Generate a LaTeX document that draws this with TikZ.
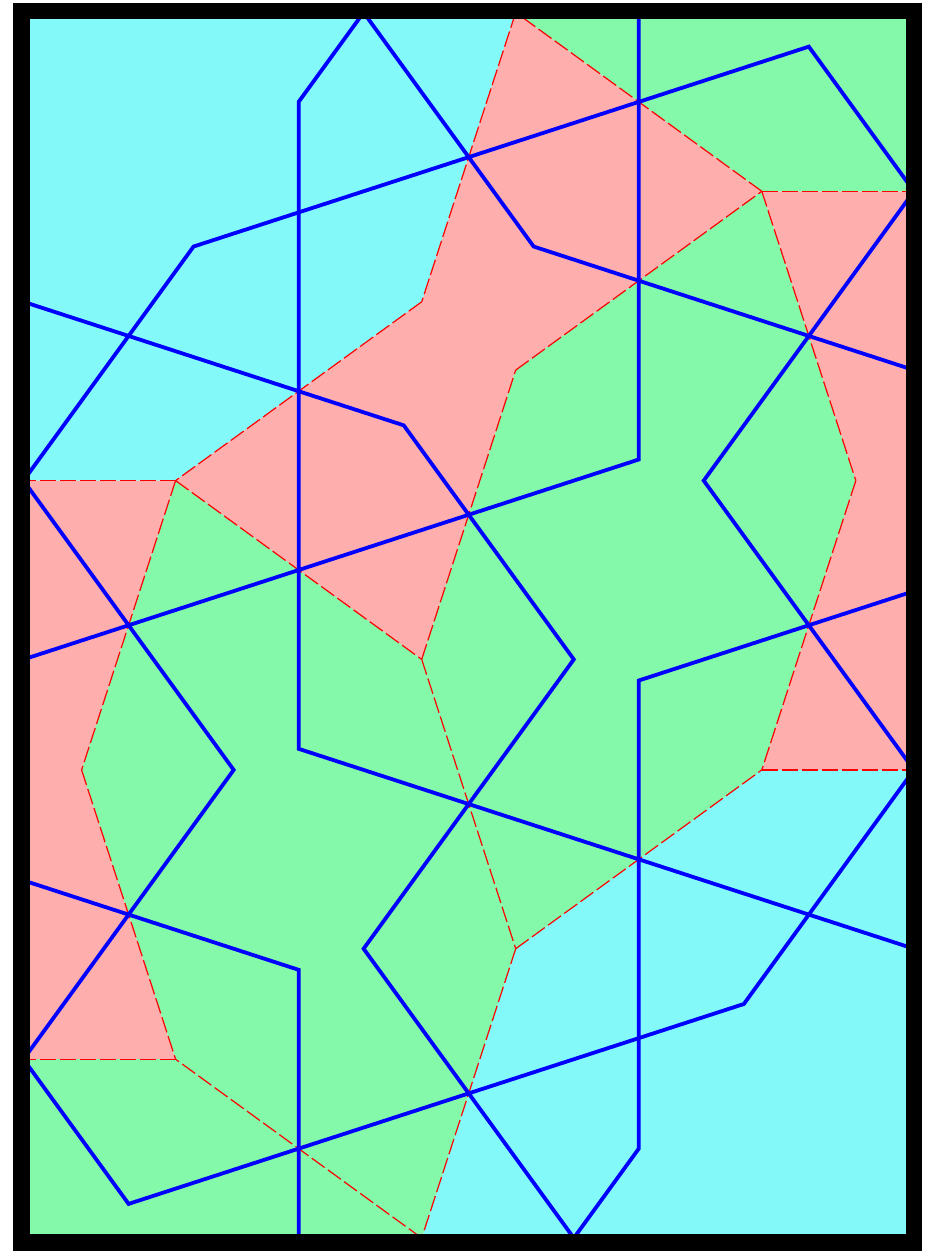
\documentclass[tikz,border=0pt]{standalone}
\usepackage{xcolor}
\usepackage{tikz}
\usetikzlibrary{calc}
\definecolor{tilecyan}{RGB}{132,249,249}
\definecolor{tilegreen}{RGB}{132,249,170}
\definecolor{tilepink}{RGB}{255,174,174}
\newcommand{\halfedge}{152.1}
\newcommand{\bowtop}{(C) -- (B) -- (A) -- (F) -- (E) -- (D) -- cycle}
\newcommand{\bowright}{(D) -- (G) -- (H) -- (H2) -- (G2) -- (D2) -- cycle}
\newcommand{\bowleft}{(A) -- (K) -- (J) -- (J2) -- (K2) -- (A2) -- cycle}
\newcommand{\hexleft}{(A) -- (F) -- (I) -- (L) -- (J) -- (K) -- cycle}
\newcommand{\hexright}{(F) -- (I) -- (H) -- (G) -- (D) -- (E) -- cycle}
\newcommand{\hextop}{(C) -- (D) -- (D2) -- (D3) -- (D4) -- (D5) -- cycle}
\newcommand{\hexbottom}{(L) -- (J) -- (J2) -- (J3) -- (J4) -- (J5) -- cycle}
\tikzset{
  decatile/.style={fill=tilecyan},
  hextile/.style={fill=tilegreen},
  bowtile/.style={fill=tilepink},
  tileedge/.style={draw=red, line width=1.2pt, dash pattern=on 16pt off 4pt},
  strap/.style={draw=blue, line width=3.8pt, line join=miter},
  outerframe/.style={draw=black, line width=16.4pt}
}

\begin{document}
\begin{tikzpicture}[x=1pt,y=1pt]
  \useasboundingbox (0,0) rectangle (933,-1251);
  \pgfmathsetmacro{\fulledge}{2*\halfedge}
  \pgfmathsetmacro{\decR}{3.23607*\halfedge}
  \pgfmathsetmacro{\decmid}{3.07768*\halfedge}
  \pgfmathsetmacro{\decpt}{1.90211*\halfedge}
  \pgfmathsetmacro{\wing}{0.72654*\halfedge}
  \coordinate (nw) at (21.6,-11.2);
  \coordinate (se) at (913.7,-1242.5);
  % tile corners
  \coordinate (A) at (175.6,-480.6);
  \coordinate (B) at ($(A)+(36:\fulledge)$);
  \coordinate (C) at ($(B)+(72:\fulledge)$);
  \coordinate (D) at ($(C)+(-36:\fulledge)$);
  \coordinate (E) at ($(D)+(216:\fulledge)$);
  \coordinate (F) at ($(E)+(252:\fulledge)$);
  \coordinate (G) at ($(D)+(-72:\fulledge)$);
  \coordinate (H) at ($(G)+(252:\fulledge)$);
  \coordinate (I) at ($(H)+(216:\fulledge)$);
  \coordinate (L) at ($(I)+(252:\fulledge)$);
  \coordinate (J) at ($(L)+(144:\fulledge)$);
  \coordinate (K) at ($(J)+(108:\fulledge)$);
  \coordinate (A2) at ($(A)+(180:\fulledge)$);
  \coordinate (J2) at ($(J)+(180:\fulledge)$);
  \coordinate (K2) at ($(J2)+(72:\fulledge)$);
  \coordinate (D2) at ($(D)+(0:\fulledge)$);
  \coordinate (H2) at ($(H)+(0:\fulledge)$);
  \coordinate (G2) at ($(H2)+(108:\fulledge)$);
  \coordinate (D3) at ($(D2)+(108:\fulledge)$);
  \coordinate (D4) at ($(D3)+(144:\fulledge)$);
  \coordinate (D5) at ($(D4)+(180:\fulledge)$);
  \coordinate (J3) at ($(J2)+(-72:\fulledge)$);
  \coordinate (J4) at ($(J3)+(-36:\fulledge)$);
  \coordinate (J5) at ($(J4)+(0:\fulledge)$);
  \coordinate (O1) at ($(A)+(108:\decR)$);
  \coordinate (O2) at ($(H)+(288:\decR)$);
  % edge midpoints
  \foreach \u/\v in {A/B,B/C,C/D,D/E,E/F,A/F,D/G,G/H,H/I,I/L,J/L,J/K,A/K,F/I,
      D/D2,D2/G2,H/H2,H2/G2,A/A2,A2/K2,J/J2,J2/K2,D2/D3,D3/D4,D4/D5,C/D5,
      J2/J3,J3/J4,J4/J5,J5/L}
    \coordinate (m\u\v) at ($(\u)!.5!(\v)$);

  \begin{scope}
    \clip (nw) rectangle (se);
    % tiles
    \foreach \o in {O1,O2}
      \fill[decatile,shift={(\o)}] (0:\decR) \foreach \a in {36,72,...,324}{ -- (\a:\decR)} -- cycle;
    \fill[bowtile] \bowtop;
    \fill[bowtile] \bowright;
    \fill[bowtile] \bowleft;
    \fill[hextile] \hexleft;
    \fill[hextile] \hexright;
    \fill[hextile] \hextop;
    \fill[hextile] \hexbottom;
    % tile edges, each once
    \foreach \u/\v in {C/B,B/A,A/F,F/E,E/D,D/C,D/G,G/H,H/H2,D/D2,
        A/K,K/J,J/J2,A/A2,F/I,I/L,L/J,I/H}
      \draw[tileedge] (\u) -- (\v);
    % rosettes in the decagons
    \foreach \o in {O1,O2}{
      \draw[strap,shift={(\o)}] (18:\decmid) \foreach \a in {54,126,198,270}{ -- (\a:\decpt) -- ({\a+36}:\decmid)} -- (342:\decpt) -- cycle;
      \draw[strap,shift={(\o)}] (54:\decmid) \foreach \a in {90,162,234,306}{ -- (\a:\decpt) -- ({\a+36}:\decmid)} -- (18:\decpt) -- cycle;
    }
    % bowties
    \draw[strap] (mBC) -- (mCD) -- (mDE) -- ($(mDE)+(162:\wing)$) -- cycle;
    \draw[strap] (mAB) -- (mAF) -- (mEF) -- ($(mEF)+(126:\wing)$) -- cycle;
    \draw[strap] (mD2G2) -- (mDD2) -- (mDG) -- ($(mDG)+(-18:\wing)$) -- cycle;
    \draw[strap] (mGH) -- (mHH2) -- (mH2G2) -- ($(mGH)+(18:\wing)$) -- cycle;
    \draw[strap] (mA2K2) -- (mAA2) -- (mAK) -- ($(mAK)+(198:\wing)$) -- cycle;
    \draw[strap] (mJK) -- (mJJ2) -- (mJ2K2) -- ($(mJK)+(162:\wing)$) -- cycle;
    % hexagons
    \draw[strap] (mAF) -- ($(F)+(216:\halfedge)$) -- (mFI) -- ($(I)+(180:\halfedge)$) -- (mIL)
      -- (mJL) -- ($(J)+(36:\halfedge)$) -- (mJK) -- ($(K)+(0:\halfedge)$) -- (mAK) -- cycle;
    \draw[strap] (mFI) -- (mHI) -- ($(H)+(144:\halfedge)$) -- (mGH) -- ($(G)+(180:\halfedge)$)
      -- (mDG) -- (mDE) -- ($(E)+(-36:\halfedge)$) -- (mEF) -- ($(F)+(0:\halfedge)$) -- cycle;
    \draw[strap] (mCD) -- ($(D)+(72:\halfedge)$) -- (mDD2) -- (mD2D3) -- ($(D3)+(216:\halfedge)$)
      -- (mD3D4) -- ($(D4)+(252:\halfedge)$) -- (mD4D5) -- (mCD5) -- ($(C)+(36:\halfedge)$) -- cycle;
    \draw[strap] (mJL) -- ($(J)+(252:\halfedge)$) -- (mJJ2) -- (mJ2J3) -- ($(J3)+(36:\halfedge)$)
      -- (mJ3J4) -- ($(J4)+(72:\halfedge)$) -- (mJ4J5) -- (mJ5L) -- ($(L)+(216:\halfedge)$) -- cycle;
  \end{scope}
  \draw[outerframe] (nw) rectangle (se);
\end{tikzpicture}
\end{document}
